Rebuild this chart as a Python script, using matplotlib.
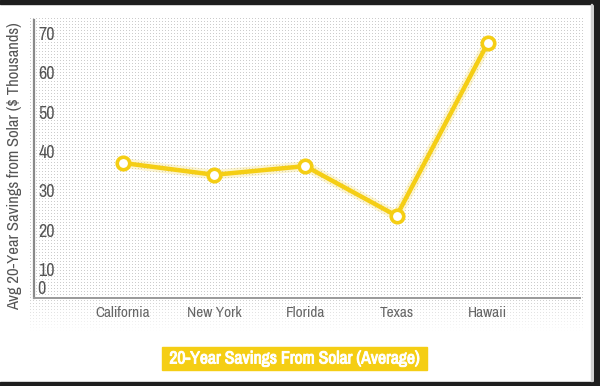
import numpy as np
import matplotlib
matplotlib.use('Agg')
import matplotlib.pyplot as plt
import matplotlib.patheffects as pe
from matplotlib.patches import Rectangle
from matplotlib import font_manager

# data
states = ['California', 'New York', 'Florida', 'Texas', 'Hawaii']
savings = [37.1, 34.1, 36.3, 23.7, 67.5]
y_ticks = [10, 20, 30, 40, 50, 60, 70]

# look for a narrow face, otherwise Lato (narrower than DejaVu)
family, stretch = 'Lato', 'normal'
for f in font_manager.fontManager.ttflist:
    if 'Narrow' in f.name or 'Condensed' in f.name:
        family, stretch = f.name, 'normal'
        break
    if f.stretch in ('condensed', 'semi-condensed') and f.name in ('Noto Sans', 'Open Sans', 'Roboto'):
        family, stretch = f.name, f.stretch
        break
plt.rcParams['font.family'] = [family, 'DejaVu Sans']
plt.rcParams['font.stretch'] = stretch

YELLOW = '#F5CE14'
GREY = '#666666'
W, H = 600, 386

fig = plt.figure(figsize=(6, 3.86), dpi=100)


def fr(x0, y0, x1, y1):
    # pixel box (top-left origin) -> figure fraction rect
    return [x0 / W, 1 - y1 / H, (x1 - x0) / W, (y1 - y0) / H]


# dotted paper background
bg = fig.add_axes(fr(30, 18, 584, 332))
h, w = 314, 554
dots = np.zeros((h, w))
dots[::3, ::3] = 0.2
fade = np.clip((h - np.arange(h)) / 35, 0, 1)
dots = dots * fade[:, None]
bg.imshow(1 - dots, cmap='gray', vmin=0, vmax=1, interpolation='nearest', aspect='auto')
bg.axis('off')

ax = fig.add_axes(fr(34, 20, 580, 298))
ax.patch.set_alpha(0)
x = np.arange(len(states))
ax.plot(x, savings, color=YELLOW, lw=7, alpha=0.2, solid_capstyle='round', zorder=2)
ax.plot(x, savings, color=YELLOW, lw=3.2, marker='o', ms=9, mfc='white',
        mec=YELLOW, mew=2.6, solid_capstyle='round', zorder=3)

ax.set_xlim(-0.975, 5.01)
ax.set_ylim(2.9, 73.3)
for s in ['top', 'right']:
    ax.spines[s].set_visible(False)
ax.spines['left'].set_color('#8a8a8a')
ax.spines['left'].set_linewidth(1.6)
ax.spines['bottom'].set_color('#9a9a9a')
ax.spines['bottom'].set_linewidth(1.4)

ax.set_xticks(x, states)
ax.tick_params(axis='x', length=0, pad=6, labelsize=10.5, labelcolor=GREY)
ax.set_yticks(y_ticks)
ax.tick_params(axis='y', length=0, pad=-3, labelsize=13, labelcolor='#555555')
for lab in ax.get_yticklabels():
    lab.set_ha('left')
ax.annotate('0', xy=(0, 0), xycoords='axes fraction', xytext=(2.2, 3),
            textcoords='offset points', ha='left', va='baseline',
            fontsize=13, color='#555555')

ylab = fig.text(15 / W, 1 - 166 / H, 'Avg 20-Year Savings from Solar ($ Thousands)',
                rotation=90, ha='center', va='center', fontsize=11.5, color='#555555')

# title box
fig.patches.append(Rectangle(fr(162, 347, 427, 370)[:2], 265 / W, 23 / H,
                             transform=fig.transFigure, color=YELLOW, zorder=1))
title = fig.text(294.5 / W, 1 - 358.5 / H, '20-Year Savings From Solar (Average)',
                 ha='center', va='center', fontsize=11.5, fontweight='bold', color='white',
                 path_effects=[pe.withStroke(linewidth=0.7, foreground='white')])

# fit text sizes to the widths seen in the reference
fig.canvas.draw()
rend = fig.canvas.get_renderer()
bb = ylab.get_window_extent(rend)
ylab.set_fontsize(ylab.get_fontsize() * min(288 / bb.height, 1.25))
bb = title.get_window_extent(rend)
title.set_fontsize(title.get_fontsize() * min(250 / bb.width, 1.25))
bb = ax.get_xticklabels()[0].get_window_extent(rend)
ax.tick_params(axis='x', labelsize=10.5 * min(55 / bb.width, 1.25))

# screenshot frame
for box in [(0, 0, 600, 4), (594, 0, 600, 386), (0, 382, 600, 386)]:
    r = fr(*box)
    fig.patches.append(Rectangle(r[:2], r[2], r[3], transform=fig.transFigure,
                                 color='#1e1e1e', zorder=5))
r = fr(591, 4, 592, 381)
fig.patches.append(Rectangle(r[:2], r[2], r[3], transform=fig.transFigure,
                             color='#d0d0d0', zorder=5))

fig.savefig('out.png', dpi=100)
